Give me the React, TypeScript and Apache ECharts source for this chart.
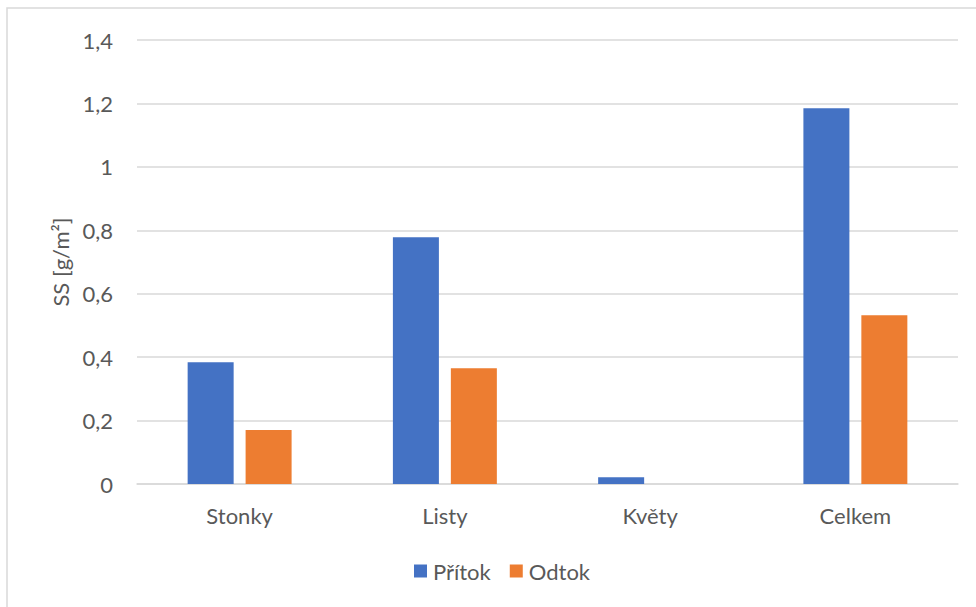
import React, { useEffect, useRef } from "react";
import * as echarts from "echarts";

const categories = ["Stonky", "Listy", "Květy", "Celkem"];
const pritok = [0.384, 0.778, 0.021, 1.185];
const odtok = [0.17, 0.365, 0.0, 0.532];
const seriesNames = ["Přítok", "Odtok"];

const FONT = "Lato, 'Open Sans', sans-serif";
const TEXT = "#595959";

export default function App() {
  const ref = useRef<HTMLDivElement>(null);

  useEffect(() => {
    const chart = echarts.init(ref.current!, null, { renderer: "svg" });
    chart.setOption({
      animation: false,
      backgroundColor: "#ffffff",
      textStyle: { fontFamily: FONT, color: TEXT },
      graphic: [
        {
          type: "rect",
          shape: { x: 7, y: 8, width: 1000, height: 640 },
          style: { fill: "none", stroke: "#d9d9d9", lineWidth: 1.5 },
          silent: true,
        },
      ],
      grid: { left: 137, right: 18, top: 40, bottom: 123 },
      legend: {
        top: 555,
        left: 409,
        itemWidth: 13,
        itemHeight: 13,
        itemGap: 19,
        icon: "rect",
        textStyle: { fontFamily: FONT, fontSize: 22, color: TEXT, padding: [0, 0, 0, 1] },
        data: seriesNames,
      },
      xAxis: {
        type: "category",
        data: categories,
        axisLine: { lineStyle: { color: "#d9d9d9", width: 1.5 } },
        axisTick: { show: false },
        axisLabel: { fontFamily: FONT, fontSize: 22, color: TEXT, margin: 20 },
      },
      yAxis: {
        type: "value",
        min: 0,
        max: 1.4,
        interval: 0.2,
        name: "SS [g/m²]",
        nameLocation: "middle",
        nameGap: 66,
        nameTextStyle: { fontFamily: FONT, fontSize: 22, color: TEXT },
        axisLine: { show: false },
        axisTick: { show: false },
        splitLine: { lineStyle: { color: "#d9d9d9", width: 1.5 } },
        axisLabel: {
          fontFamily: FONT,
          fontSize: 22,
          color: TEXT,
          margin: 24,
          formatter: (v: number) => (Math.round(v * 10) / 10).toString().replace(".", ","),
        },
      },
      series: [
        {
          name: seriesNames[0],
          type: "bar",
          data: pritok,
          barWidth: 46,
          barGap: "26%",
          itemStyle: { color: "#4472C4" },
        },
        {
          name: seriesNames[1],
          type: "bar",
          data: odtok,
          barWidth: 46,
          itemStyle: { color: "#ED7D31" },
        },
      ],
    });
    return () => chart.dispose();
  }, []);

  return (
    <div
      ref={ref}
      style={{ position: "absolute", left: 0, top: 0, width: 976, height: 607 }}
    />
  );
}
